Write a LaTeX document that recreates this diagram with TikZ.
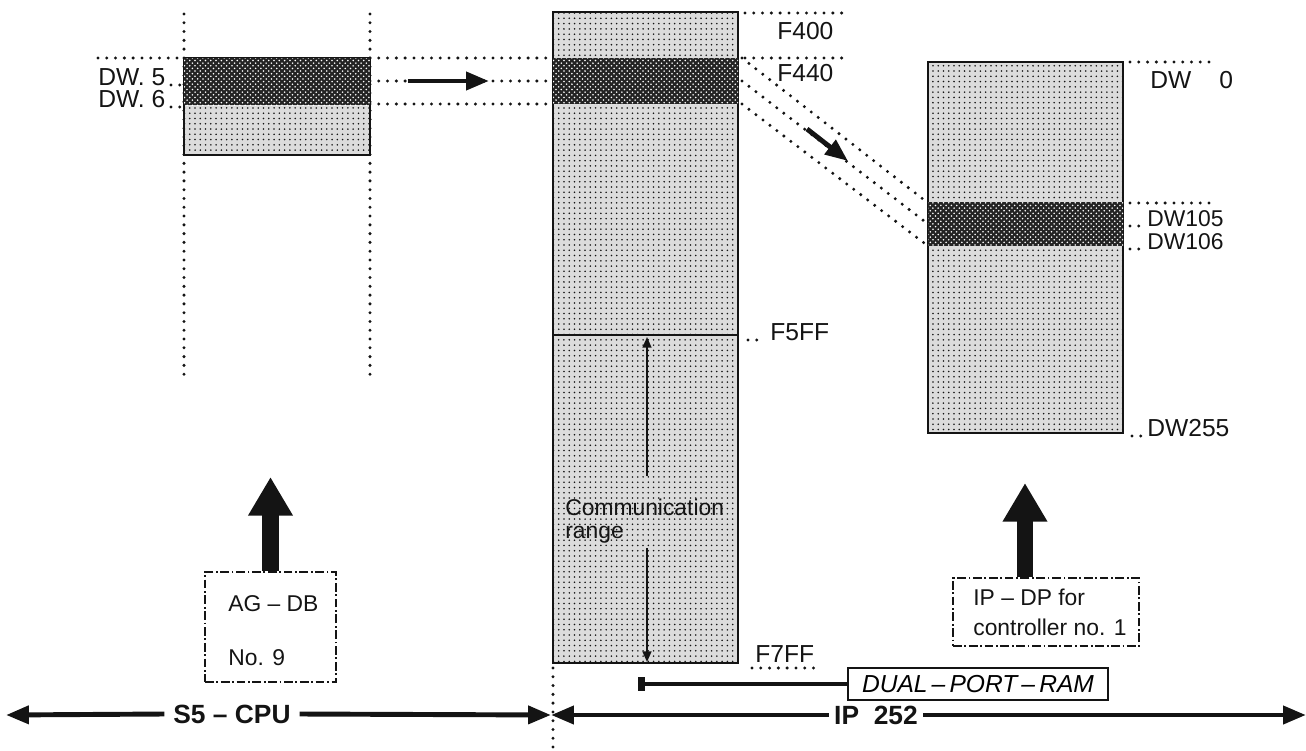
\documentclass[tikz,border=0pt]{standalone}
\usepackage{fontspec}
\setmainfont{Liberation Sans}
\usetikzlibrary{arrows.meta,patterns}
\definecolor{ipInk}{HTML}{141414}
\definecolor{ipStipple}{HTML}{DCDCDC}
\definecolor{ipBand}{HTML}{242424}
\tikzset{
  ip light/.style={draw=ipInk, line width=1.2pt, fill=ipStipple, postaction={pattern=dots, pattern color=ipInk}},
  ip dark/.style={fill=ipBand, postaction={pattern=crosshatch dots, pattern color=white}},
  ip dots/.style={draw=ipInk, line width=1.9pt, line cap=round, dash pattern=on 0pt off 5pt},
  ip chain/.style={draw=ipInk, line width=1pt, dash pattern=on 5pt off 1.5pt on 1pt off 1.5pt},
  ip label/.style={inner sep=0pt, anchor=base west, text=ipInk, font=\fontsize{14}{16}\selectfont},
  ip small label/.style={ip label, font=\fontsize{13}{15}\selectfont},
  ip text/.style={ip label, font=\fontsize{13}{15}\selectfont},
  ip title/.style={inner sep=5pt, text=ipInk, font=\fontsize{15}{17}\selectfont\bfseries},
  ip push/.style={draw=ipInk, line width=2.8pt, -{Triangle[length=13pt, width=10pt]}},
  ip tap/.style={draw=ipInk, line width=2.8pt, {Square[length=4pt, width=8pt]}-},
  ip big arrow/.style={draw=ipInk, line width=9.5pt, -{Triangle[length=22pt, width=24pt]}},
  ip range/.style={draw=ipInk, line width=1pt, -{Triangle[length=6pt, width=5pt]}},
}

\begin{document}
\begin{tikzpicture}[x=0.02cm, y=-0.02cm]
  \useasboundingbox (0,0) rectangle (1306,751);
  % guide lines of the S5 data block
  \draw[ip dots] (184,14) -- (184,375);
  \draw[ip dots] (370,14) -- (370,375);
  \draw[ip dots] (98,58) -- (184,58);
  \foreach \y in {58,81,104}
    \draw[ip dots] (370,\y) -- (553,\y);
  % AG data block, DW 5 and DW 6
  \draw[ip light] (184,58) rectangle (370,155);
  \fill[ip dark] (184,58) rectangle (370,105);
  \node[ip label] (dw5) at (98,85) {DW. 5};
  \node[ip label] (dw6) at (98,107) {DW. 6};
  \draw[ip dots] ([xshift=3pt]dw5.base east) -- (184,85);
  \draw[ip dots] ([xshift=3pt]dw6.base east) -- (184,107);
  % dual port RAM of the IP 252
  \draw[ip light] (553,12) rectangle (738,663);
  \fill[ip dark] (553,58) rectangle (738,104);
  \draw[ipInk, line width=1.2pt] (553,335) -- (738,335);
  \draw[ip dots] (745,13) -- (842,13);
  \draw[ip dots] (745,58) -- (842,58);
  \node[ip label] (f400) at (777,39) {F400};
  \node[ip label] (f440) at (777,81) {F440};
  \node[ip label] (f5ff) at (770,340) {F5FF};
  \draw[ip dots] (748,340) -- ([xshift=-3pt]f5ff.base west);
  \node[ip label] (f7ff) at (755,662) {F7FF};
  \draw[ip dots] (752,668) -- (816,668);
  % communication range
  \node[ip text] (comm) at (565,515) {Communication};
  \node[ip text] (rng) at (565,538) {range};
  \coordinate (cr top) at (647,337);
  \coordinate (cr up) at (647,476);
  \coordinate (cr down) at (647,548);
  \coordinate (cr bottom) at (647,662);
  \draw[ip range] (cr up) -- (cr top);
  \draw[ip range] (cr down) -- (cr bottom);
  % mapping onto the controller data block
  \foreach \a/\b in {58/203,81/224,104/246}
    \draw[ip dots] (742,\a) -- (928,\b);
  \draw[ip light] (928,62) rectangle (1123,433);
  \fill[ip dark] (928,202) rectangle (1123,246);
  \draw[ip dots] (1130,62) -- (1217,62);
  \draw[ip dots] (1130,203) -- (1217,203);
  \node[ip label] (dw0) at (1150,88) {DW\hspace{16pt}0};
  \node[ip small label] (dw105) at (1147,226) {DW105};
  \node[ip small label] (dw106) at (1147,249) {DW106};
  \node[ip label] (dw255) at (1147,436) {DW255};
  \draw[ip dots] (1130,226) -- ([xshift=-3pt]dw105.base west);
  \draw[ip dots] (1130,249) -- ([xshift=-3pt]dw106.base west);
  \draw[ip dots] (1132,436) -- ([xshift=-3pt]dw255.base west);
  % transfer arrows
  \coordinate (push a) at (408,81);
  \coordinate (push b) at (489,81);
  \draw[ip push] (push a) -- (push b);
  \coordinate (slide a) at (807,129);
  \coordinate (slide b) at (848,161);
  \draw[ip push] (slide a) -- (slide b);
  % source blocks
  \node[ip chain, minimum width=2.62cm, minimum height=2.2cm] (agdb) at (270.5,627) {};
  \node[ip text] (agdb name) at (228,611) {AG – DB};
  \node[ip text] (agdb no) at (228,665) {No. 9};
  \coordinate (agdb tip) at (270.5,477);
  \draw[ip big arrow] (agdb.north) -- (agdb tip);
  \node[ip chain, minimum width=3.72cm, minimum height=1.36cm] (ipdp) at (1046,612) {};
  \node[ip text] (ipdp name) at (973,605) {IP – DP for};
  \node[ip text] (ipdp no) at (973,635) {controller no. 1};
  \coordinate (ipdp tip) at (1025,483);
  \draw[ip big arrow] (ipdp tip |- ipdp.north) -- (ipdp tip);
  % DUAL-PORT-RAM tag
  \node[draw=ipInk, line width=1.2pt, minimum width=5.2cm, minimum height=0.64cm, inner sep=2pt,
        font=\fontsize{14}{16}\selectfont\itshape] (dpram) at (978,684) {DUAL\,–\,PORT\,–\,RAM};
  \coordinate (dpram tap) at (638,684);
  \draw[ip tap] (dpram tap) -- (dpram.west);
  % module ranges
  \node[ip title] (s5) at (232,714) {S5 – CPU};
  \node[ip title, inner sep=3pt] (ip252) at (876,715) {IP\ \ 252};
  \coordinate (s5 end) at (6,715);
  \coordinate (split) at (551,715);
  \coordinate (ip end) at (1306,715);
  \draw[ip push] (s5.west) -- (s5 end);
  \draw[ip push] (s5.east) -- (split);
  \draw[ip push] (ip252.west) -- (split);
  \draw[ip push] (ip252.east) -- (ip end);
  \draw[ip dots] (553,668) -- (553,749);
\end{tikzpicture}
\end{document}
